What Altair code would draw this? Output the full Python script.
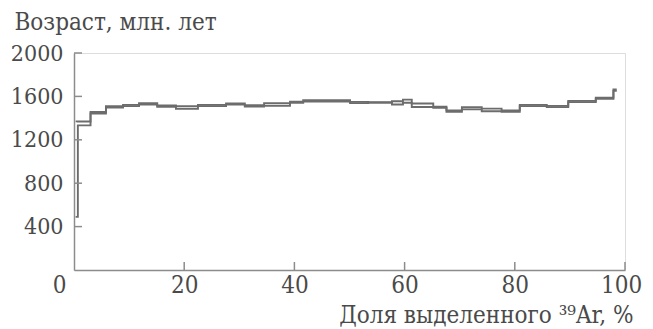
import altair as alt
import pandas as pd

# Step boundaries (% of released 39Ar), step ages and half-widths (Ma)
frac_start = [0.3, 0.7, 3.0, 5.8, 8.9, 11.8, 15.1, 18.5, 22.5, 27.6, 31.0, 34.5,
              39.2, 41.6, 50.1, 53.4, 57.7, 59.7, 61.3, 65.2, 67.6, 70.4, 74.0,
              77.6, 80.9, 85.8, 89.7, 94.7, 97.9]
frac_end_last = 98.5
age = [930, 1351, 1449, 1504, 1516, 1532, 1510, 1498, 1516, 1530, 1512, 1525,
       1546, 1558, 1544, 1544, 1540, 1556, 1518, 1500, 1465, 1490, 1475,
       1465, 1516, 1507, 1553, 1583, 1657]
err = [440, 18, 7, 6, 6, 6, 6, 12, 6, 6, 6, 12,
       6, 6, 6, 3, 15, 14, 16, 6, 6, 10, 12,
       6, 6, 6, 6, 6, 6]

x_labels = [0, 20, 40, 60, 80, 100]
x_ticks = [20, 40, 60, 80, 100]
y_ticks = [400, 800, 1200, 1600, 2000]

rows = []
for bound, sign in (("upper", 1), ("lower", -1)):
    for s, a, e in zip(frac_start, age, err):
        rows.append({"bound": bound, "x": s, "y": a + sign * e})
    rows.append({"bound": bound, "x": frac_end_last, "y": age[-1] + sign * err[-1]})
df = pd.DataFrame(rows)

FONT = "DejaVu Serif Condensed"
TXT = "#4a4a4a"
AX = "#8c8c8c"
H = 217

x_scale = alt.Scale(domain=[0, 100], nice=False, zero=False)
y_scale = alt.Scale(domain=[0, 2000], nice=False)

lines = alt.Chart(df).mark_line(
    interpolate="step-after", color="#6c6c6c", strokeWidth=1.9
).encode(
    x=alt.X("x:Q", scale=x_scale, axis=alt.Axis(
        orient="bottom", values=x_labels, ticks=False, grid=False, format="d",
        domainColor=AX, domainWidth=1.5, labelFlush=False,
        labelFont=FONT, labelFontSize=24, labelColor=TXT, labelPadding=3,
        labelOffset={"condition": [{"test": "datum.value == 0", "value": -15},
                                   {"test": "datum.value == 100", "value": -4}],
                     "value": 0},
        title="Доля выделенного ³⁹Ar, %", titleFont=FONT, titleFontSize=24,
        titleFontWeight="normal", titleColor=TXT, titleAnchor="end",
        titleAlign="right", titleBaseline="alphabetic", titleX=559, titleY=52)),
    y=alt.Y("y:Q", scale=y_scale, axis=alt.Axis(
        orient="left", values=y_ticks, ticks=False, grid=False, format="d",
        domainColor=AX, domainWidth=1.5,
        labelFont=FONT, labelFontSize=23, labelColor=TXT, labelPadding=11,
        title="Возраст, млн. лет", titleFont=FONT, titleFontSize=24,
        titleFontWeight="normal", titleColor=TXT, titleAngle=0,
        titleAlign="left", titleBaseline="alphabetic", titleX=-60, titleY=-24)),
    detail="bound:N",
)

xt = alt.Chart(pd.DataFrame({"t": x_ticks})).mark_rule(color=AX, strokeWidth=1.5).encode(
    x=alt.X("t:Q", scale=x_scale), y=alt.value(H), y2=alt.value(H - 8))
yt = alt.Chart(pd.DataFrame({"t": y_ticks})).mark_rule(color=AX, strokeWidth=1.5).encode(
    y=alt.Y("t:Q", scale=y_scale), x=alt.value(0), x2=alt.value(8))

chart = alt.layer(lines, xt, yt).properties(
    width=551, height=H,
    autosize=alt.AutoSizeParams(type="none"),
    padding={"left": 66, "top": 45, "right": 20, "bottom": 59},
).configure_view(stroke=None).configure(background="white", font=FONT)

chart.save("out.html", embed_options={"renderer": "svg", "actions": False})
